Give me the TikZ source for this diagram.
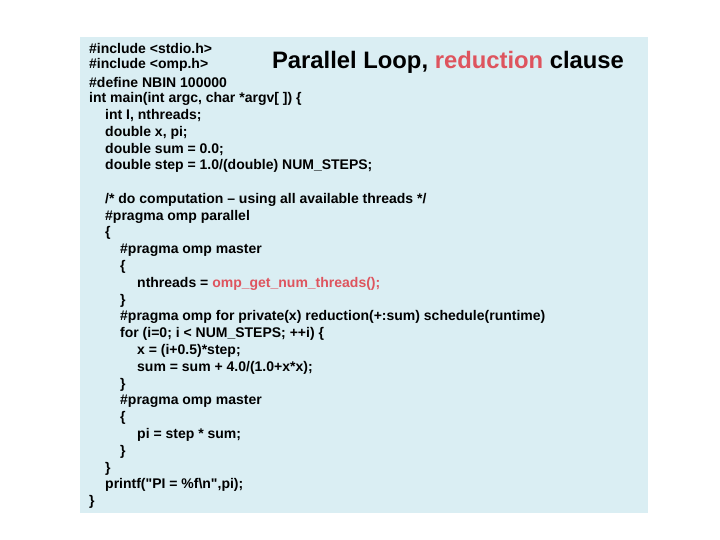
\documentclass[tikz,border=0pt]{standalone}
\usepackage{fontspec}
\setmainfont{Liberation Sans}
\newfontfamily\qf{Liberation Sans}
\newcommand\qq{{\qf\bfseries\symbol{34}}}
\definecolor{bg}{RGB}{218,238,243}
\definecolor{red}{RGB}{222,84,94}
\begin{document}
\begin{tikzpicture}[x=1pt,y=-1pt,
  code/.style={anchor=west,inner sep=0pt,font=\fontsize{14}{16}\selectfont\bfseries}]
\useasboundingbox (0,0) rectangle (720,540);
\fill[bg] (80,37) rectangle (648,513);
\node[anchor=center,inner sep=0pt,font=\fontsize{23.8}{26}\selectfont\bfseries] (title) at (448,62) {Parallel Loop, \textcolor{red}{reduction} clause};
\def\L#1{48.5+16.8*#1}
\node[code] (l0) at (89,{\L0}) {\#include <stdio.h>};
\node[code] (l1) at (89,{\L1}) {\#include <omp.h>};
\node[code] (l2) at (89,{\L2}) {\#define NBIN 100000};
\node[code] (l3) at (89,{\L3}) {int main(int argc, char *argv[ ]) \{};
\node[code] (l4) at (105,{\L4}) {int I, nthreads;};
\node[code] (l5) at (105,{\L5}) {double x, pi;};
\node[code] (l6) at (105,{\L6}) {double sum = 0.0;};
\node[code] (l7) at (105,{\L7}) {double step = 1.0/(double) NUM\_STEPS;};
\node[code] (l9) at (105,{\L9}) {/* do computation -- using all available threads */};
\node[code] (l10) at (105,{\L{10}}) {\#pragma omp parallel};
\node[code] (l11) at (105,{\L{11}}) {\{};
\node[code] (l12) at (120,{\L{12}}) {\#pragma omp master};
\node[code] (l13) at (120,{\L{13}}) {\{};
\node[code] (l14) at (137,{\L{14}}) {nthreads = \textcolor{red}{omp\_get\_num\_threads();}};
\node[code] (l15) at (120,{\L{15}}) {\}};
\node[code] (l16) at (120,{\L{16}}) {\#pragma omp for private(x) reduction(+:sum) schedule(runtime)};
\node[code] (l17) at (120,{\L{17}}) {for (i=0; i < NUM\_STEPS; ++i) \{};
\node[code] (l18) at (137,{\L{18}}) {x = (i+0.5)*step;};
\node[code] (l19) at (137,{\L{19}}) {sum = sum + 4.0/(1.0+x*x);};
\node[code] (l20) at (120,{\L{20}}) {\}};
\node[code] (l21) at (120,{\L{21}}) {\#pragma omp master};
\node[code] (l22) at (120,{\L{22}}) {\{};
\node[code] (l23) at (137,{\L{23}}) {pi = step * sum;};
\node[code] (l24) at (120,{\L{24}}) {\}};
\node[code] (l25) at (105,{\L{25}}) {\}};
\node[code] (l26) at (105,{\L{26}}) {printf(\qq PI = \%f\textbackslash n\qq,pi);};
\node[code] (l27) at (89,{\L{27}}) {\}};
\end{tikzpicture}
\end{document}
